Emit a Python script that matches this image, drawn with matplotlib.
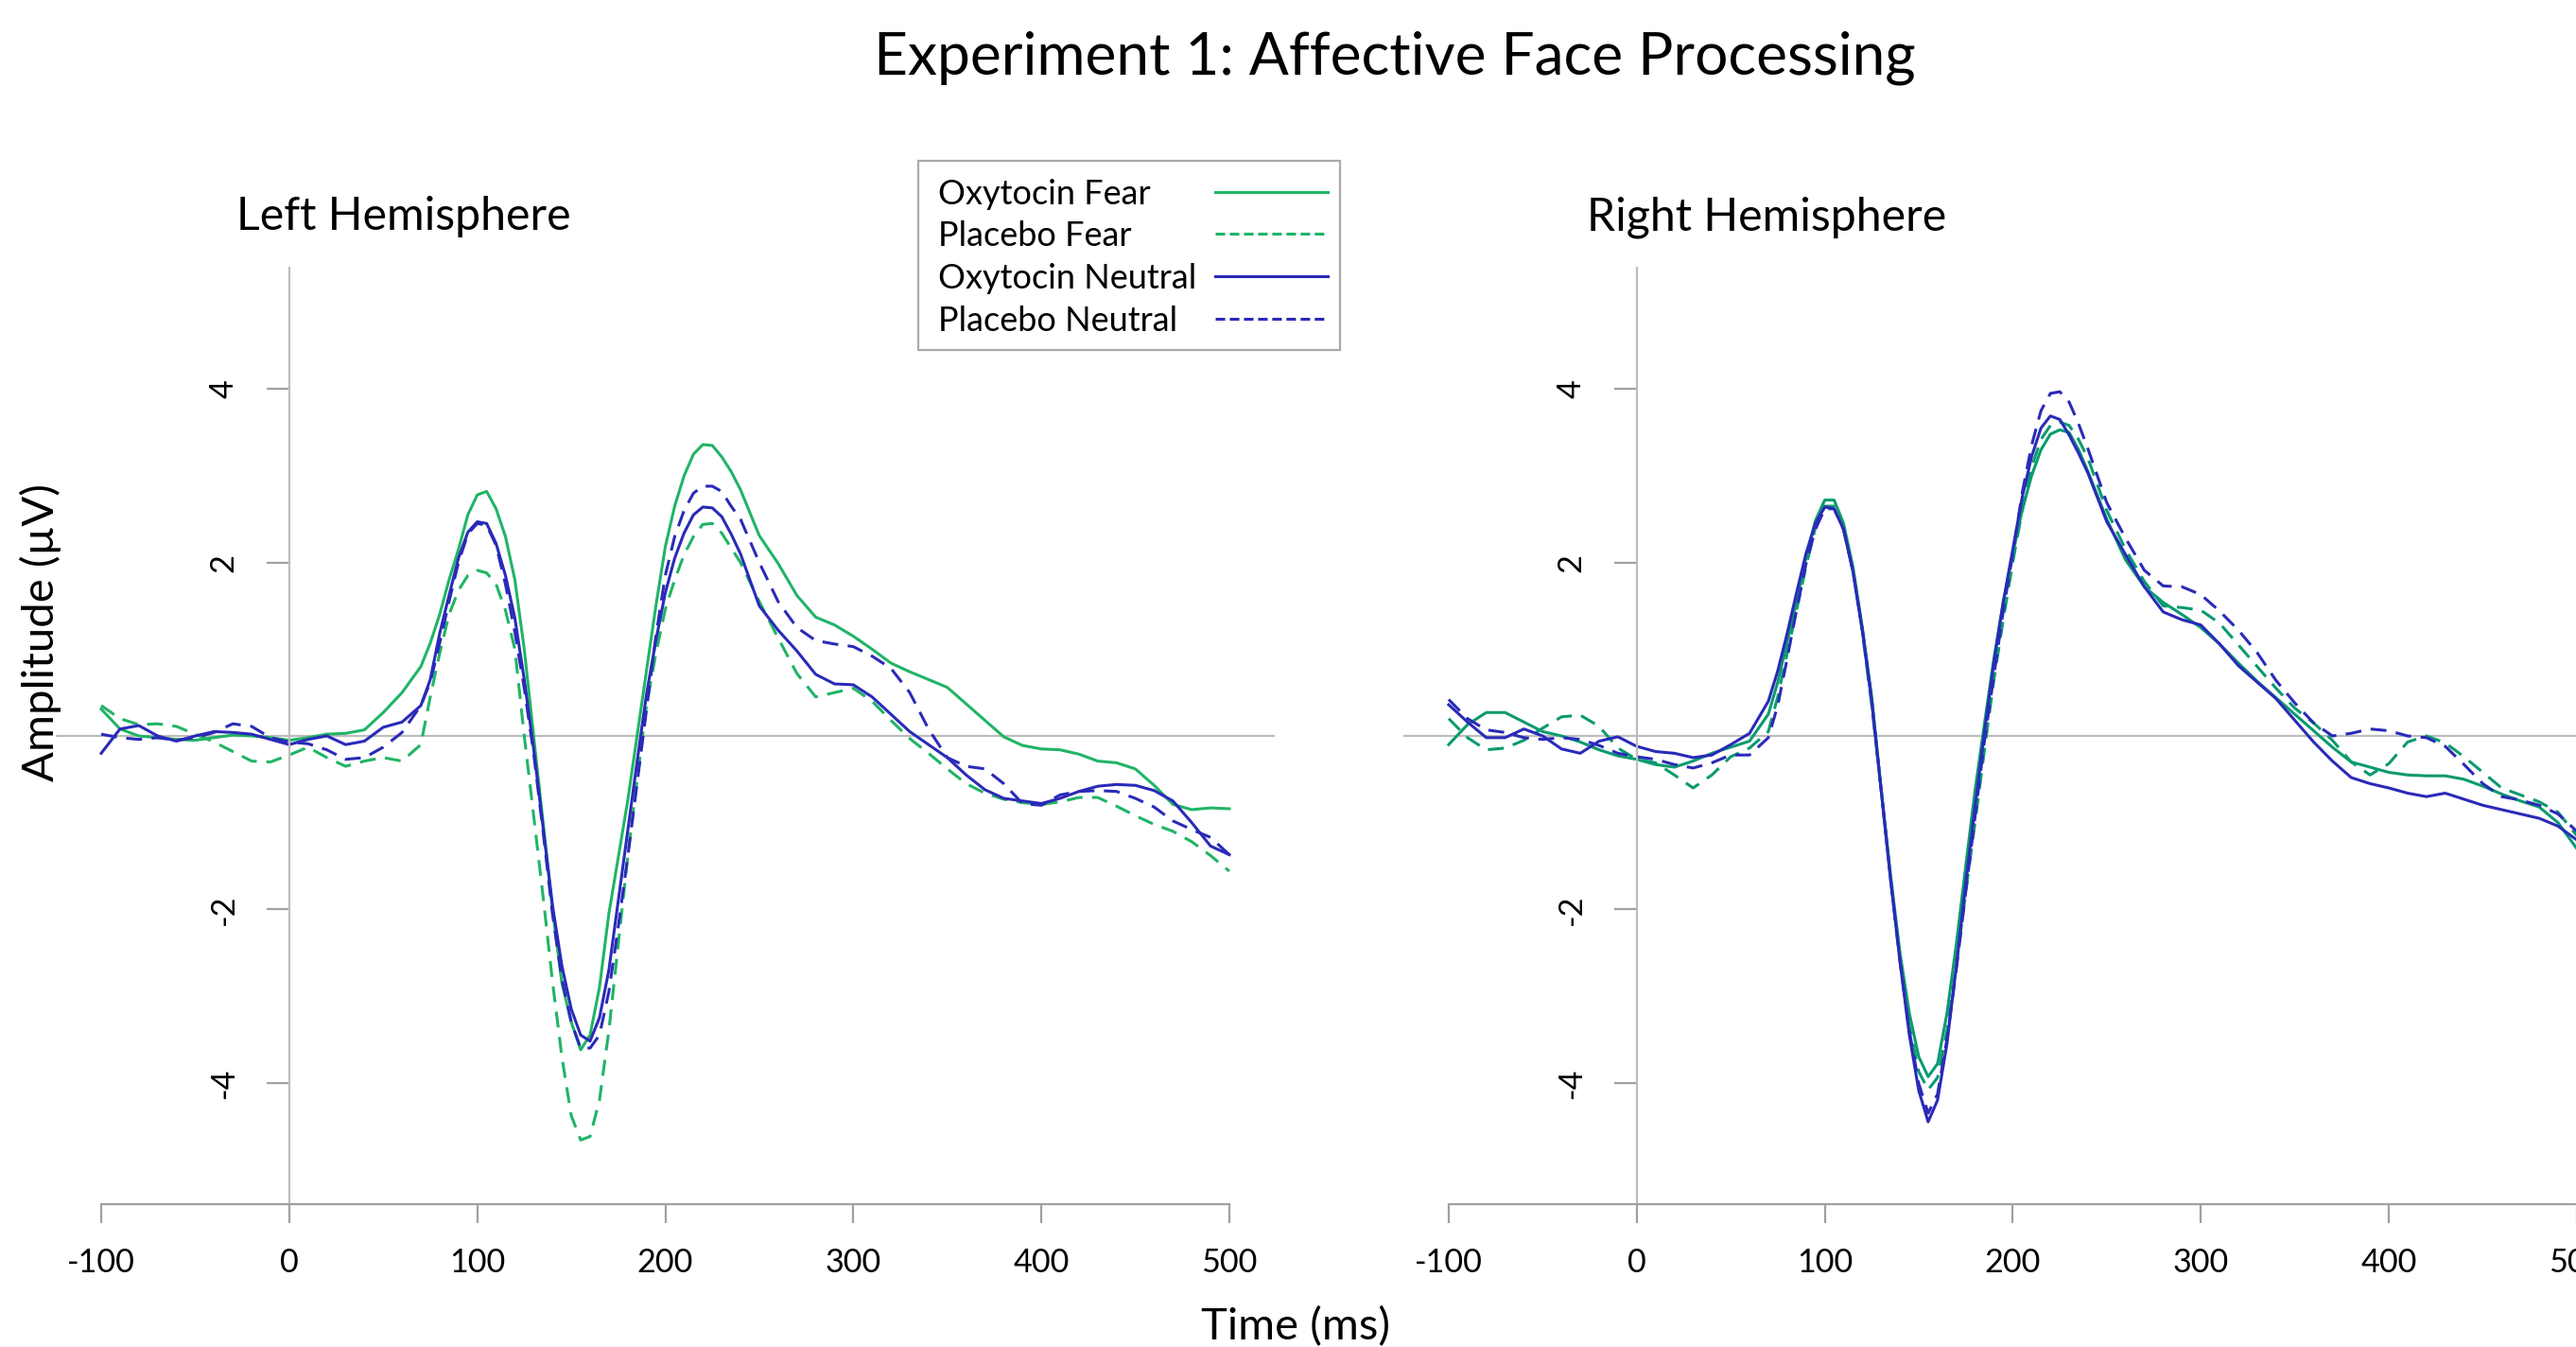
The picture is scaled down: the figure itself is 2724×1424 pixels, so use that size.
import numpy as np
import matplotlib.pyplot as plt
from matplotlib.lines import Line2D
from matplotlib.patches import Rectangle

plt.rcParams['font.family'] = ['Lato', 'DejaVu Sans']

# time points (ms), sampled more densely through the P1 / N170 / P2 peaks
time_ms = (list(range(-100, 71, 10)) + list(range(75, 241, 5))
           + list(range(250, 501, 10)))

# ---- left hemisphere ----
left_oxy_fear = [0.31, 0.08, 0.00, -0.02, -0.04, -0.05, -0.02, 0.01, 0.00, -0.02,
                 -0.05, -0.02, 0.02, 0.03, 0.07, 0.27, 0.50, 0.80,
                 1.07, 1.40, 1.80, 2.15, 2.55, 2.78, 2.82, 2.62, 2.30, 1.80,
                 1.00, 0.00, -1.00, -2.00, -2.85, -3.30, -3.62, -3.45, -2.90, -2.05,
                 -1.40, -0.75, 0.00, 0.75, 1.50, 2.18, 2.65, 3.00, 3.25, 3.36,
                 3.35, 3.22, 3.05, 2.84,
                 2.31, 1.99, 1.62, 1.37, 1.28, 1.15, 1.00, 0.84, 0.74, 0.65,
                 0.56, 0.37, 0.18, -0.01, -0.11, -0.15, -0.16, -0.21, -0.29, -0.31,
                 -0.38, -0.57, -0.79, -0.85, -0.83, -0.84]
left_pla_fear = [0.35, 0.20, 0.13, 0.14, 0.11, 0.02, -0.07, -0.18, -0.29, -0.30,
                 -0.22, -0.13, -0.25, -0.35, -0.29, -0.25, -0.29, -0.10,
                 0.45, 0.95, 1.40, 1.68, 1.85, 1.91, 1.88, 1.75, 1.45, 1.00,
                 0.00, -0.92, -1.85, -2.83, -3.70, -4.38, -4.66, -4.62, -4.20, -3.40,
                 -2.40, -1.40, -0.50, 0.35, 0.95, 1.46, 1.80, 2.09, 2.30, 2.44,
                 2.45, 2.34, 2.17, 2.00,
                 1.55, 1.13, 0.72, 0.45, 0.50, 0.55, 0.40, 0.18, -0.03, -0.20,
                 -0.38, -0.55, -0.66, -0.73, -0.77, -0.79, -0.76, -0.71, -0.71, -0.81,
                 -0.92, -1.02, -1.10, -1.22, -1.38, -1.56]
left_oxy_neut = [-0.20, 0.08, 0.12, 0.00, -0.06, 0.00, 0.05, 0.04, 0.02, -0.04,
                 -0.10, -0.04, 0.00, -0.10, -0.06, 0.10, 0.16, 0.35,
                 0.65, 1.18, 1.62, 2.05, 2.35, 2.47, 2.45, 2.22, 1.85, 1.36,
                 0.65, -0.15, -1.05, -1.95, -2.65, -3.15, -3.45, -3.52, -3.25, -2.70,
                 -1.90, -1.10, -0.30, 0.48, 1.10, 1.65, 2.05, 2.34, 2.55, 2.64,
                 2.63, 2.53, 2.33, 2.10,
                 1.50, 1.22, 0.98, 0.71, 0.60, 0.59, 0.45, 0.25, 0.05, -0.10,
                 -0.25, -0.45, -0.62, -0.72, -0.75, -0.78, -0.72, -0.64, -0.58, -0.56,
                 -0.57, -0.63, -0.75, -1.00, -1.27, -1.37]
left_pla_neut = [0.02, -0.02, -0.04, -0.02, -0.05, -0.02, 0.04, 0.14, 0.11, -0.02,
                 -0.07, -0.09, -0.16, -0.27, -0.25, -0.13, 0.04, 0.35,
                 0.62, 1.07, 1.55, 2.00, 2.33, 2.45, 2.43, 2.20, 1.75, 1.20,
                 0.55, -0.20, -1.10, -2.05, -2.80, -3.30, -3.60, -3.60, -3.45, -2.95,
                 -2.20, -1.40, -0.55, 0.30, 1.15, 1.85, 2.30, 2.60, 2.80, 2.88,
                 2.88, 2.82, 2.65, 2.50,
                 2.00, 1.55, 1.25, 1.10, 1.06, 1.03, 0.92, 0.78, 0.50, 0.08,
                 -0.25, -0.35, -0.38, -0.55, -0.78, -0.80, -0.68, -0.64, -0.63, -0.64,
                 -0.72, -0.82, -0.98, -1.08, -1.17, -1.37]

# ---- right hemisphere ----
right_oxy_fear = [-0.10, 0.13, 0.27, 0.27, 0.16, 0.05, 0.00, -0.07, -0.16, -0.23,
                  -0.27, -0.33, -0.36, -0.29, -0.20, -0.13, -0.06, 0.25,
                  0.62, 1.08, 1.55, 2.05, 2.48, 2.72, 2.72, 2.45, 1.95, 1.25,
                  0.45, -0.62, -1.60, -2.50, -3.20, -3.70, -3.93, -3.78, -3.20, -2.40,
                  -1.50, -0.62, 0.15, 0.90, 1.55, 2.10, 2.60, 3.00, 3.30, 3.48,
                  3.53, 3.50, 3.30, 3.05,
                  2.50, 2.03, 1.72, 1.54, 1.40, 1.25, 1.06, 0.84, 0.63, 0.44,
                  0.25, 0.06, -0.13, -0.30, -0.36, -0.42, -0.45, -0.46, -0.46, -0.50,
                  -0.58, -0.67, -0.75, -0.82, -1.00, -1.30]
right_pla_fear = [0.20, -0.02, -0.16, -0.14, -0.05, 0.09, 0.22, 0.24, 0.11, -0.14,
                  -0.27, -0.31, -0.45, -0.60, -0.45, -0.24, -0.14, 0.05,
                  0.45, 0.95, 1.45, 1.95, 2.40, 2.65, 2.65, 2.40, 1.90, 1.20,
                  0.35, -0.62, -1.65, -2.55, -3.35, -3.87, -4.08, -3.94, -3.40, -2.65,
                  -1.80, -0.99, -0.15, 0.65, 1.35, 2.00, 2.60, 3.10, 3.42, 3.58,
                  3.62, 3.58, 3.42, 3.20,
                  2.60, 2.15, 1.78, 1.50, 1.48, 1.45, 1.30, 1.05, 0.80, 0.55,
                  0.32, 0.15, -0.05, -0.30, -0.45, -0.32, -0.07, 0.00, -0.08, -0.24,
                  -0.42, -0.60, -0.68, -0.76, -0.88, -1.15]
right_oxy_neut = [0.36, 0.16, -0.02, -0.02, 0.08, 0.00, -0.15, -0.20, -0.06, -0.01,
                  -0.12, -0.18, -0.20, -0.25, -0.22, -0.10, 0.03, 0.40,
                  0.75, 1.18, 1.65, 2.10, 2.45, 2.64, 2.62, 2.38, 1.90, 1.22,
                  0.40, -0.62, -1.65, -2.60, -3.45, -4.09, -4.45, -4.20, -3.55, -2.65,
                  -1.70, -0.81, 0.05, 0.85, 1.55, 2.15, 2.75, 3.22, 3.55, 3.69,
                  3.65, 3.47, 3.26, 3.03,
                  2.47, 2.09, 1.72, 1.43, 1.34, 1.28, 1.06, 0.81, 0.62, 0.43,
                  0.18, -0.07, -0.29, -0.48, -0.55, -0.60, -0.66, -0.70, -0.66, -0.73,
                  -0.80, -0.85, -0.90, -0.95, -1.04, -1.20]
right_pla_neut = [0.42, 0.20, 0.07, 0.04, -0.02, -0.04, -0.02, -0.04, -0.11, -0.20,
                  -0.24, -0.27, -0.33, -0.37, -0.31, -0.22, -0.22, -0.02,
                  0.35, 0.89, 1.45, 1.98, 2.38, 2.62, 2.62, 2.38, 1.90, 1.22,
                  0.40, -0.62, -1.65, -2.60, -3.40, -4.01, -4.35, -4.13, -3.50, -2.69,
                  -1.80, -0.92, -0.05, 0.70, 1.45, 2.10, 2.80, 3.35, 3.75, 3.95,
                  3.97, 3.85, 3.60, 3.31,
                  2.69, 2.28, 1.91, 1.73, 1.72, 1.63, 1.44, 1.22, 0.96, 0.64,
                  0.38, 0.15, 0.00, 0.03, 0.08, 0.06, 0.00, -0.02, -0.12, -0.33,
                  -0.55, -0.70, -0.74, -0.80, -0.90, -1.10]

x_ticks = [-100, 0, 100, 200, 300, 400, 500]
y_ticks = [-4, -2, 2, 4]
legend_labels = ["Oxytocin Fear", "Placebo Fear", "Oxytocin Neutral", "Placebo Neutral"]

green_left = "#20b466"
green_right = "#0b9a70"
blue = "#2a2ab8"
axis_grey = "#a0a0a0"
line_grey = "#bdbdbd"
lw = 1.1
dash = (5.5, 3.3)

W, H = 2724, 1424
fig = plt.figure(figsize=(W / 200, H / 200), dpi=200)

panels = [
    (59.3, green_left, [left_oxy_fear, left_pla_fear, left_oxy_neut, left_pla_neut]),
    (1484.2, green_right, [right_oxy_fear, right_pla_fear, right_oxy_neut, right_pla_neut]),
]

for left_px, green, (of, pf, on, pn) in panels:
    ax = fig.add_axes([left_px / W, 151 / H, 1288.4 / W, 990 / H])
    ax.set_xlim(-124, 524)
    ax.set_ylim(-5.4, 5.4)
    ax.axhline(0, color=line_grey, lw=0.8, zorder=0)

    ax.plot(time_ms, of, color=green, lw=lw)
    ax.plot(time_ms, pf, color=green, lw=lw, dashes=dash)
    ax.plot(time_ms, on, color=blue, lw=lw)
    ax.plot(time_ms, pn, color=blue, lw=lw, dashes=dash)

    for s in ["top", "right"]:
        ax.spines[s].set_visible(False)
    ax.spines["bottom"].set_bounds(-100, 500)
    ax.spines["bottom"].set_color(axis_grey)
    ax.spines["bottom"].set_linewidth(0.8)
    ax.spines["left"].set_position(("data", 0))
    ax.spines["left"].set_color(line_grey)
    ax.spines["left"].set_linewidth(0.8)

    ax.set_xticks(x_ticks)
    ax.set_xticklabels([str(t) for t in x_ticks])
    ax.set_yticks(y_ticks)
    ax.set_yticklabels([str(t) for t in y_ticks], rotation=90, va="center")
    ax.tick_params(axis="x", direction="out", length=7.2, width=0.8,
                   color=axis_grey, pad=9.5, labelsize=12.3)
    ax.tick_params(axis="y", direction="out", length=8.6, width=0.8,
                   color=axis_grey, pad=10.5, labelsize=12.3)
    ax.patch.set_alpha(0)

fig.text(1475 / W, 1 - 78 / H, "Experiment 1: Affective Face Processing",
         ha="center", va="baseline", fontsize=22.4)
fig.text(250 / W, 1 - 243 / H, "Left Hemisphere", ha="left", va="baseline", fontsize=17.4)
fig.text(1678 / W, 1 - 243 / H, "Right Hemisphere", ha="left", va="baseline", fontsize=17.4)
fig.text(1370 / W, 1 - 1416 / H, "Time (ms)", ha="center", va="baseline", fontsize=17)
fig.text(43 / W, 1 - 669 / H, "Amplitude (µV)", ha="center", va="center",
         rotation=90, fontsize=17)

# legend: text on the left (left aligned), line samples on the right
fig.patches.append(Rectangle((971 / W, 1 - 370 / H), 446 / W, 200 / H,
                             transform=fig.transFigure, facecolor="white",
                             edgecolor="#aaaaaa", lw=0.8))
leg_dash = (3.3, 1.6)
leg_styles = [(green_left, None), (green_left, leg_dash), (blue, None), (blue, leg_dash)]
baselines = [216, 260, 305, 350]
for label, (col, ds), base in zip(legend_labels, leg_styles, baselines):
    fig.text(992 / W, 1 - base / H, label, ha="left", va="baseline", fontsize=13)
    ly = 1 - (base - 13) / H
    ln = Line2D([1285 / W, 1404 / W], [ly, ly], transform=fig.transFigure,
                color=col, lw=lw)
    if ds is not None:
        ln.set_dashes(ds)
    fig.add_artist(ln)

fig.savefig("out.png", dpi=200)
